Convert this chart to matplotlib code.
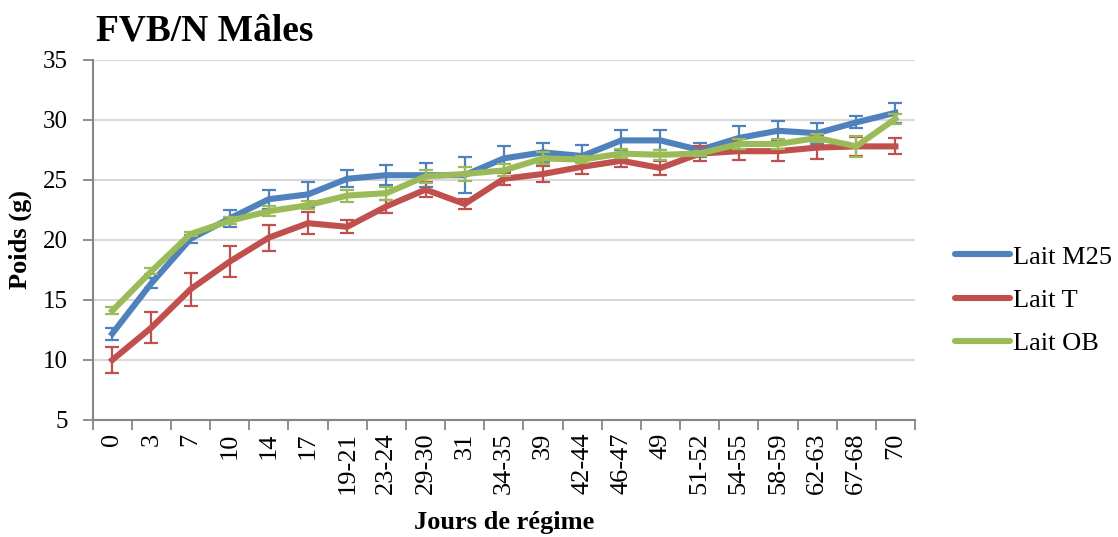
import matplotlib
matplotlib.use("Agg")
import matplotlib.pyplot as plt
import numpy as np
from matplotlib.lines import Line2D


DAYS = ["0", "3", "7", "10", "14", "17", "19-21", "23-24", "29-30", "31",
        "34-35", "39", "42-44", "46-47", "49", "51-52", "54-55", "58-59",
        "62-63", "67-68", "70"]

M25 = [12.2, 16.4, 20.1, 21.8, 23.4, 23.8, 25.1, 25.4, 25.4, 25.4,
       26.8, 27.3, 27.0, 28.3, 28.3, 27.5, 28.5, 29.1, 28.9, 29.8, 30.6]
M25_ERR = [0.5, 0.4, 0.35, 0.7, 0.8, 1.05, 0.72, 0.83, 1.0, 1.5,
           1.05, 0.8, 0.95, 0.83, 0.83, 0.56, 1.0, 0.8, 0.87, 0.5, 0.85]

T = [10.0, 12.7, 15.9, 18.2, 20.2, 21.4, 21.1, 22.8, 24.2, 23.0,
     25.1, 25.5, 26.1, 26.6, 26.0, 27.2, 27.4, 27.4, 27.7, 27.8, 27.8]
T_ERR = [1.05, 1.27, 1.37, 1.3, 1.08, 0.9, 0.53, 0.55, 0.6, 0.45,
         0.5, 0.67, 0.6, 0.53, 0.58, 0.65, 0.75, 0.8, 0.93, 0.8, 0.67]

OB = [14.1, 17.4, 20.5, 21.6, 22.4, 22.9, 23.7, 23.9, 25.3, 25.5,
      25.8, 26.8, 26.7, 27.2, 27.1, 27.2, 28.0, 28.0, 28.5, 27.8, 30.1]
OB_ERR = [0.28, 0.25, 0.2, 0.28, 0.4, 0.35, 0.5, 0.55, 0.53, 0.55,
          0.5, 0.5, 0.3, 0.37, 0.42, 0.2, 0.4, 0.4, 0.3, 0.85, 0.4]

SERIES = [
    ("Lait M25", M25, M25_ERR, "#4F81BD"),
    ("Lait T", T, T_ERR, "#C0504D"),
    ("Lait OB", OB, OB_ERR, "#9BBB59"),
]

plt.rcParams["font.family"] = ["Liberation Serif", "DejaVu Serif"]

fig = plt.figure(figsize=(11.18, 5.37), dpi=100)
ax = fig.add_axes([0.0829, 0.2179, 0.7355, 0.6704])

x = np.arange(len(DAYS))
handles = []
for i, (name, vals, err, color) in enumerate(SERIES):
    ax.errorbar(x, vals, yerr=err, fmt="-", color=color, linewidth=4.4,
                ecolor=color, elinewidth=1.6, capsize=5, capthick=1.6,
                zorder=3 + i)
    handles.append(Line2D([0], [0], color=color, linewidth=4.4,
                          solid_capstyle="round", label=name))

ax.set_xlim(-0.5, len(DAYS) - 0.5)
ax.set_ylim(5, 35)
ax.set_yticks(range(5, 36, 5))
ax.yaxis.grid(True, color="#D9D9D9", linewidth=1.5)
ax.set_axisbelow(True)

ax.set_xticks(x)
ax.set_xticklabels(DAYS, rotation=90, fontsize=19)
ax.set_xticks(np.arange(-0.5, len(DAYS), 1), minor=True)
ax.tick_params(axis="x", which="major", length=0, pad=9)
ax.tick_params(axis="x", which="minor", length=7, width=1.3, color="#868686")
ax.tick_params(axis="y", length=7, width=1.3, color="#868686",
               labelsize=18, pad=11)

for side in ("top", "right"):
    ax.spines[side].set_visible(False)
for side in ("left", "bottom"):
    ax.spines[side].set_color("#868686")
    ax.spines[side].set_linewidth(1.5)

ax.set_xlabel("Jours de régime", fontsize=19, fontweight="bold", labelpad=12)
ax.set_ylabel("Poids (g)", fontsize=19, fontweight="bold", labelpad=8)

fig.text(0.086, 0.943, "FVB/N Mâles", fontsize=27, fontweight="bold",
         ha="left", va="center")

fig.legend(handles=handles, loc="center left", bbox_to_anchor=(0.854, 0.441),
           frameon=False, fontsize=19, handlelength=2.1, handletextpad=0.1,
           labelspacing=0.75, borderpad=0, borderaxespad=0)

fig.savefig("out.png", dpi=100)
